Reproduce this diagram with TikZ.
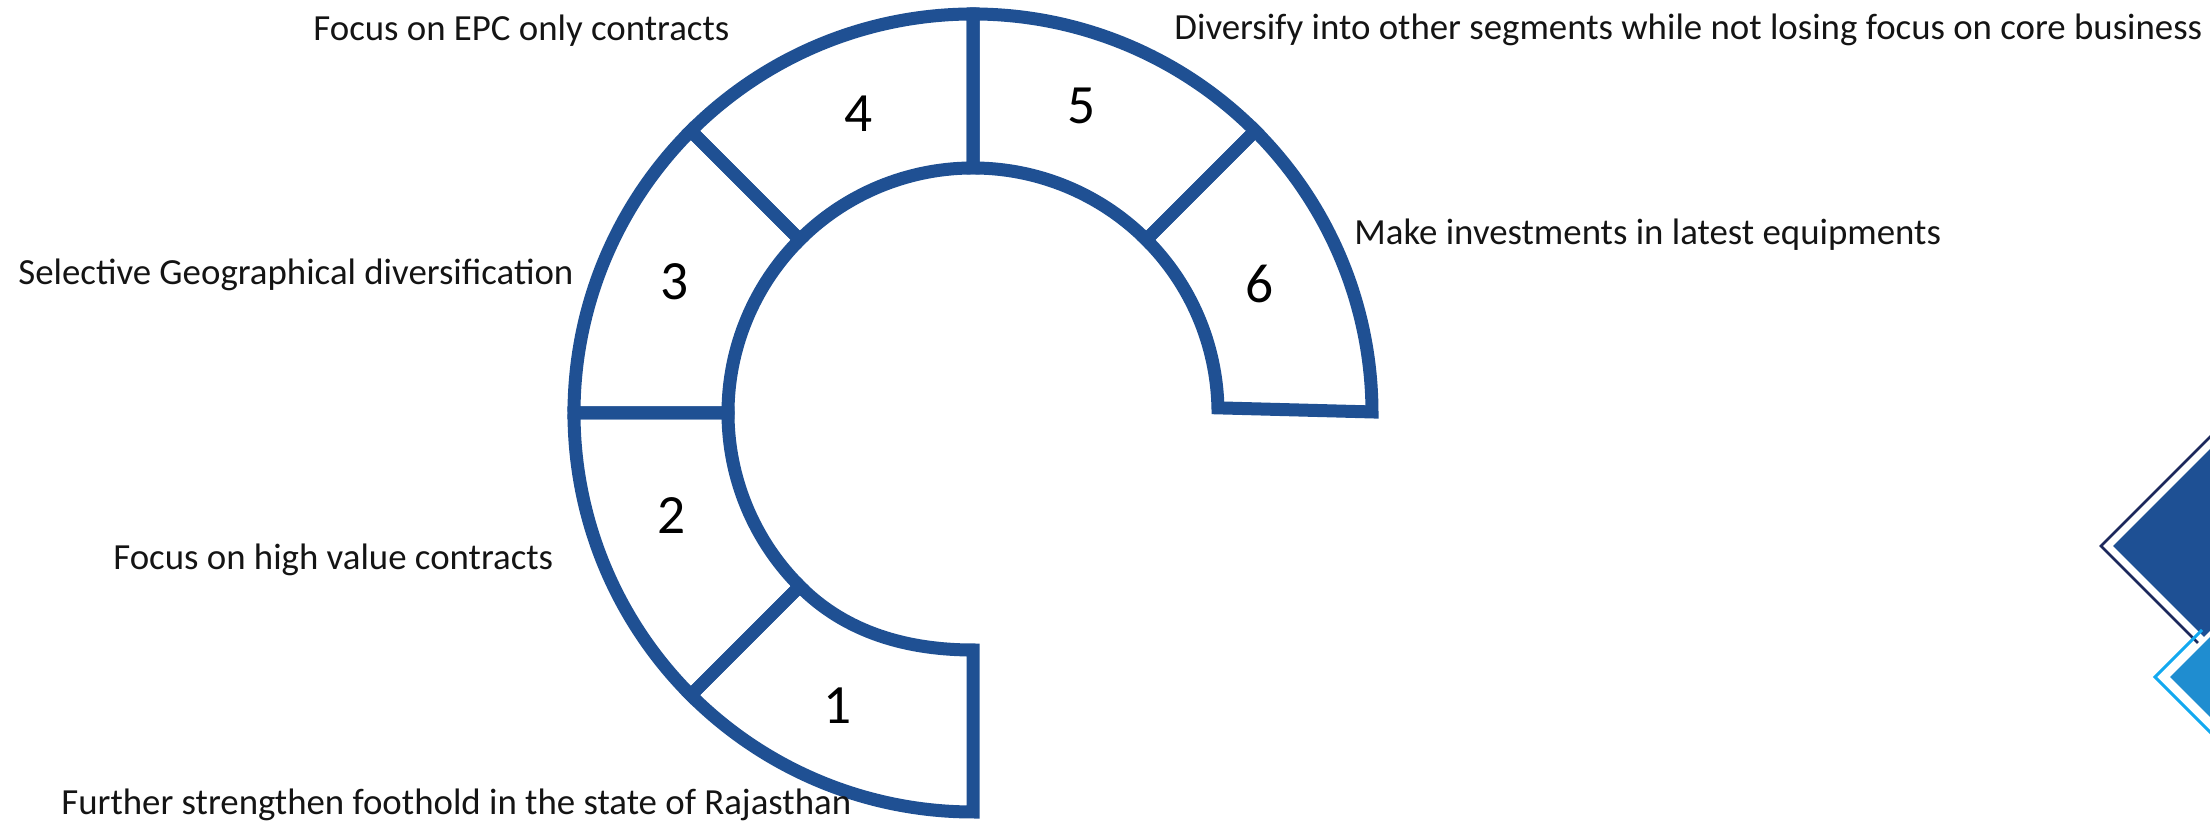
\documentclass[tikz,border=0pt]{standalone}
\usepackage{fontspec}
\setmainfont{Carlito}
\usetikzlibrary{calc}
\definecolor{ringblue}{RGB}{31,80,147}
\definecolor{darkfill}{RGB}{30,80,148}
\definecolor{navyline}{RGB}{28,40,92}
\definecolor{lightfill}{RGB}{31,141,208}
\definecolor{lightline}{RGB}{18,169,240}
\definecolor{labtext}{RGB}{20,20,20}
\tikzset{
  seg/.style={draw=ringblue, line width=6.5pt, line join=miter, miter limit=10},
  lab/.style={inner sep=0pt, anchor=base west, font=\fontsize{18.42pt}{22pt}\selectfont, text=labtext},
  num/.style={inner sep=0pt, anchor=base, font=\fontsize{27.7pt}{32pt}\selectfont, text=black},
}
\begin{document}
\begin{tikzpicture}[x=0.5pt,y=0.5pt]
\useasboundingbox (0,0) rectangle (2210,833);
\coordinate (C) at (973,420);
% segment 1
\draw[seg] ($(C)+(270:199.5pt)$) arc[start angle=270,end angle=225,radius=199.5pt]
  -- ($(C)+(225:122.5pt)$) .. controls (846,200) and (908,183) .. (973,183) -- cycle;
% segments 2-5
\foreach \a/\b in {225/180,180/135,135/90,90/45}{
  \draw[seg] ($(C)+(\a:199.5pt)$) arc[start angle=\a,end angle=\b,radius=199.5pt]
    -- ($(C)+(\b:122.5pt)$) arc[start angle=\b,end angle=\a,radius=122.5pt] -- cycle;
}
% segment 6
\draw[seg] ($(C)+(45:199.5pt)$) arc[start angle=45,end angle=0.15,radius=199.5pt]
  -- ($(C)+(1.2:122.5pt)$) arc[start angle=1.2,end angle=45,radius=122.5pt] -- cycle;
% numbers
\node[num] (n1) at (838,109) {1};
\node[num] (n2) at (672,299.5) {2};
\node[num] (n3) at (675,533.5) {3};
\node[num] (n4) at (859,701) {4};
\node[num] (n5) at (1082,709.5) {5};
\node[num] (n6) at (1260,530) {6};
% labels
\node[lab] (l1) at (61,18) {Further strengthen foothold in the state of Rajasthan};
\node[lab] (l2) at (113,263) {Focus on high value contracts};
\node[lab] (l3) at (18,548) {Selective Geographical diversification};
\node[lab] (l4) at (313,792) {Focus on EPC only contracts};
\node[lab] (l5) at (1174,793) {Diversify into other segments while not losing focus on core business};
\node[lab] (l6) at (1354,588) {Make investments in latest equipments};
% corner diamonds
\begin{scope}
  \clip (0,0) rectangle (2210,833);
  \fill[darkfill] (2113,287) -- (2413,587) -- (2713,287) -- (2413,-13) -- cycle;
  \draw[navyline, line width=1.3pt] (2251,437) -- (2101,287) -- (2199,189);
  \filldraw[fill=lightfill, draw=white, line width=2pt] (2167,156) -- (2367,356) -- (2567,156) -- (2367,-44) -- cycle;
  \draw[lightline, line width=1.5pt] (2202,203) -- (2155,156) -- (2255,56);
\end{scope}
\end{tikzpicture}
\end{document}
